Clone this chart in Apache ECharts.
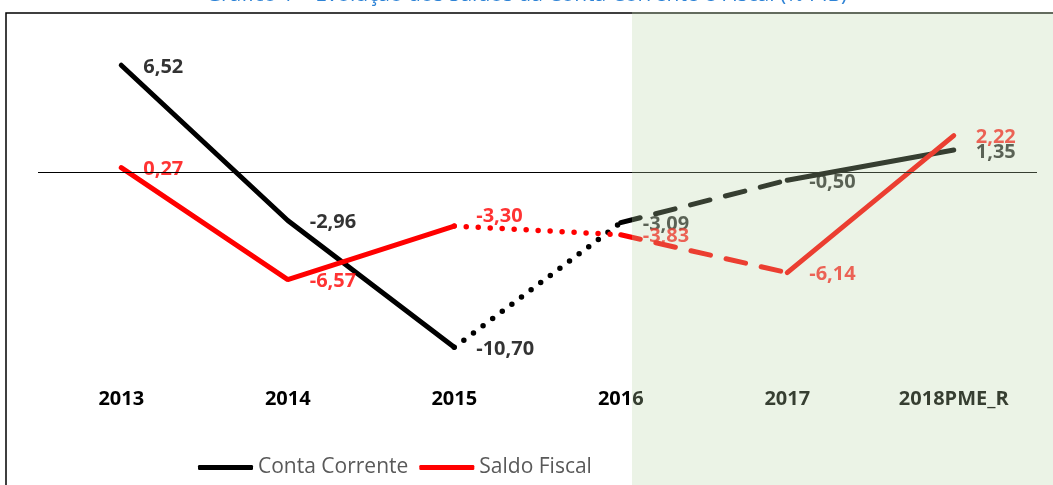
<!DOCTYPE html>
<html>
<head>
<meta charset="utf-8">
<script src="https://cdn.jsdelivr.net/npm/echarts@6/dist/echarts.min.js"></script>
<style>
  html, body { margin: 0; padding: 0; background: #fff; }
  #chart { width: 1053px; height: 485px; }
</style>
</head>
<body>
<div id="chart"></div>
<script>
var anos = ['2013', '2014', '2015', '2016', '2017', '2018PME_R'];
var contaCorrente = [6.52, -2.96, -10.70, -3.09, -0.50, 1.35];
var saldoFiscal = [0.27, -6.57, -3.30, -3.83, -6.14, 2.22];

// trechos: [inicio, fim, tipo de linha]
var trechos = [[0, 2, 'solid'], [2, 3, 'dotted'], [3, 4, 'dashed'], [4, 5, 'solid']];

function fmt(v) {
  return v.toFixed(2).replace('.', ',');
}

function segData(vals, a, b) {
  return vals.map(function (v, i) { return (i >= a && i <= b) ? v : '-'; });
}

function lineType(t) {
  if (t === 'dotted') return [0, 12];
  if (t === 'dashed') return [20, 16];
  return 'solid';
}

function buildSeries(nome, vals, cor) {
  var out = trechos.map(function (t) {
    return {
      name: nome,
      type: 'line',
      data: segData(vals, t[0], t[1]),
      symbol: 'none',
      connectNulls: false,
      lineStyle: { color: cor, width: t[2] === 'dotted' ? 5.5 : 5, type: lineType(t[2]), cap: 'round' },
      itemStyle: { color: cor },
      z: 3
    };
  });
  out.push({
    name: nome + '_rotulos',
    type: 'scatter',
    symbolSize: 0,
    data: vals.map(function (v, i) {
      var item = { value: v };
      if (nome === 'Saldo Fiscal' && i === 2) {
        item.label = { offset: [0, -10] };
      } else {
        item.label = { offset: [0, 2] };
      }
      return item;
    }),
    label: {
      show: true,
      position: 'right',
      distance: 22,
      formatter: function (p) { return fmt(p.value); },
      color: cor,
      fontFamily: 'Open Sans',
      fontWeight: 'bold',
      fontSize: 20
    },
    z: 4
  });
  return out;
}

var series = [].concat(buildSeries('Conta Corrente', contaCorrente, '#000000'),
                       buildSeries('Saldo Fiscal', saldoFiscal, '#ff0000'));
series[0].markLine = {
  silent: true,
  symbol: 'none',
  label: { show: false },
  lineStyle: { color: '#000', width: 1.2, type: 'solid' },
  data: [{ yAxis: 0 }]
};

var chart = echarts.init(document.getElementById('chart'));
chart.setOption({
  animation: false,
  title: {
    text: 'Gráfico 1 – Evolução dos Saldos da Conta Corrente e Fiscal (% PIB)',
    left: 'center',
    top: -20,
    textStyle: { color: '#2e83d6', fontFamily: 'Open Sans', fontWeight: 'normal', fontSize: 21 }
  },
  grid: { left: 38, right: 16, top: 41, bottom: 100 },
  legend: {
    data: ['Conta Corrente', 'Saldo Fiscal'],
    left: 198,
    top: 457,
    padding: 0,
    icon: 'roundRect',
    itemWidth: 55,
    itemHeight: 5,
    itemGap: 11,
    textStyle: { color: '#595959', fontFamily: 'Open Sans', fontSize: 21 }
  },
  xAxis: {
    type: 'category',
    data: anos,
    axisLine: { show: false, onZero: false },
    axisTick: { show: false },
    axisLabel: { color: '#000', fontFamily: 'Open Sans', fontWeight: 'bold', fontSize: 20, margin: 4 }
  },
  yAxis: {
    type: 'value',
    min: -13,
    max: 8,
    show: false,
    splitLine: { show: false }
  },
  graphic: [
    {
      type: 'rect',
      shape: { x: 6, y: 13, width: 1100, height: 500 },
      style: { fill: 'none', stroke: '#000', lineWidth: 1.5 },
      silent: true,
      z: 0
    },
    {
      type: 'rect',
      shape: { x: 632, y: 12, width: 430, height: 480 },
      style: { fill: 'rgba(187,214,170,0.29)' },
      silent: true,
      z: 100
    }
  ],
  series: series
});
</script>
</body>
</html>
